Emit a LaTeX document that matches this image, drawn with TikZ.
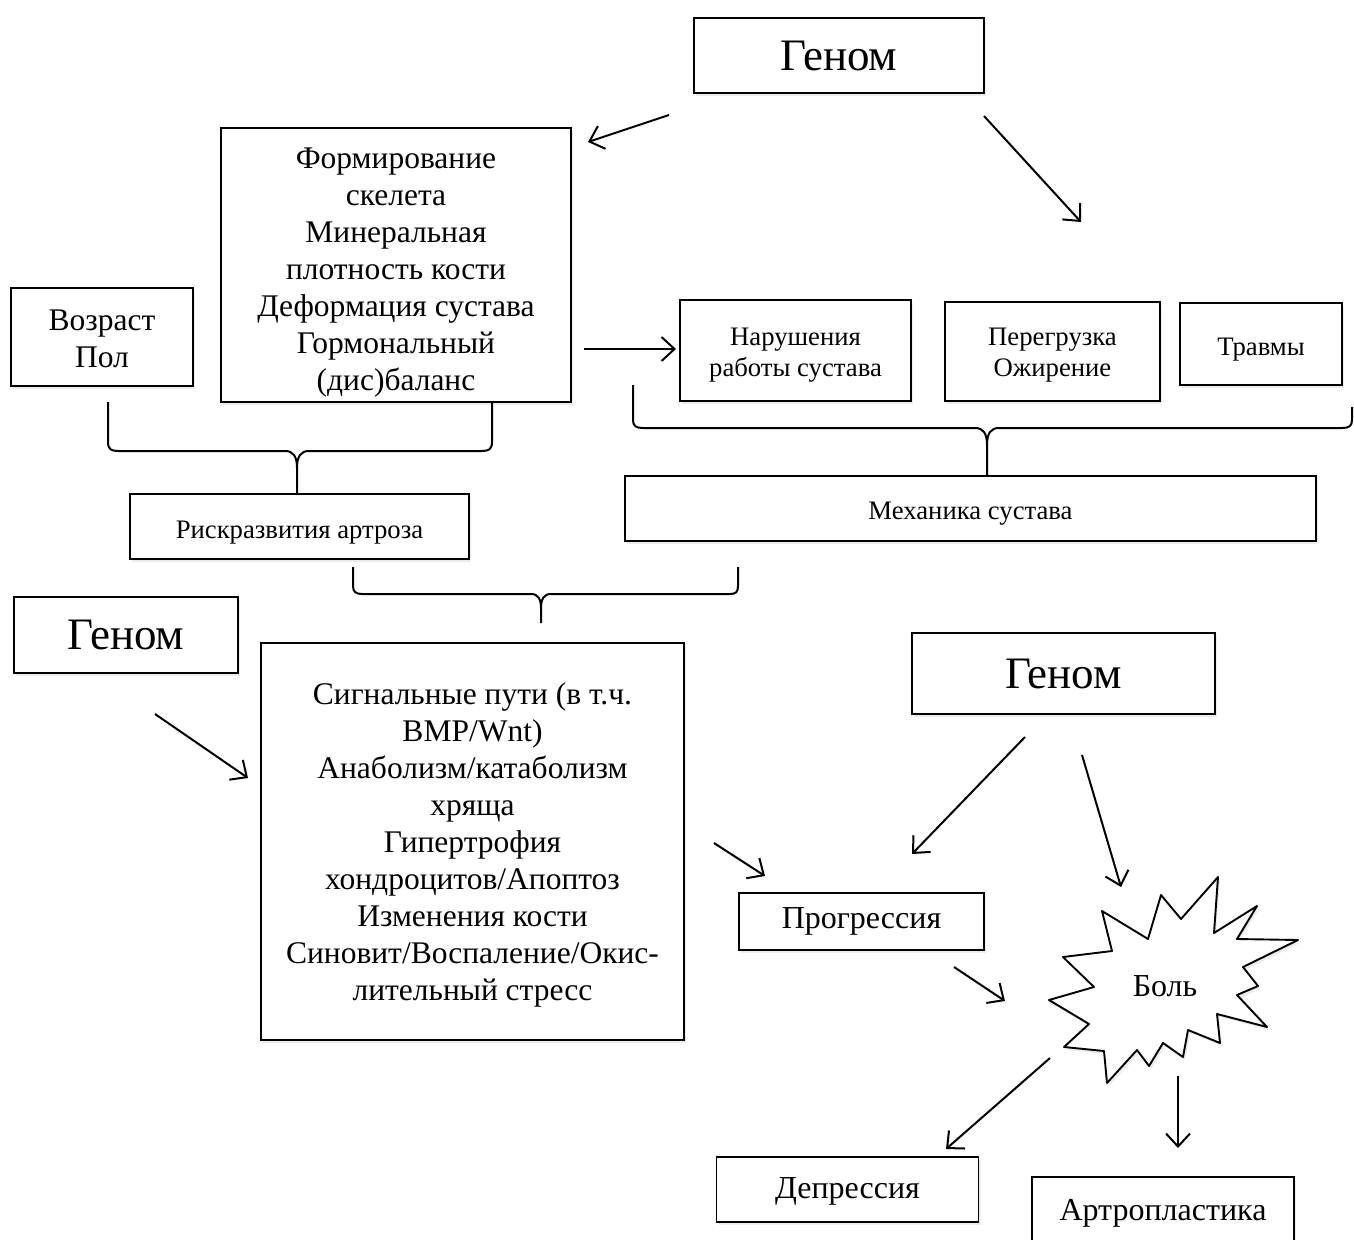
\documentclass[tikz,border=0pt]{standalone}
\usepackage{fontspec}
\setmainfont{Liberation Serif}
\usetikzlibrary{arrows.meta,shadows}
\newcommand\lowered[2]{\raisebox{-#1}[\height][\depth]{#2}}
\begin{document}
\begin{tikzpicture}[x=1pt,y=-1pt,
 box/.style={draw,line width=1.9pt,fill=white,inner sep=0pt,align=center,
   drop shadow={opacity=0.15,shadow xshift=2pt,shadow yshift=-3pt}},
 big/.style={font=\fontsize{45}{52}\selectfont},
 mid/.style={font=\fontsize{31.5}{37}\selectfont},
 med/.style={font=\fontsize{32}{37}\selectfont},
 sml/.style={font=\fontsize{26.7}{31}\selectfont},
 arr/.style={line width=2pt,-{Straight Barb[length=13pt,width=24pt,line width=2pt]}},
 bracestyle/.style={line width=2pt,line join=round}]
\useasboundingbox (0,0) rectangle (1354,1239);
\fill[white] (0,0) rectangle (1354,1239);

% boxes
\node[box,big,minimum width=290pt,minimum height=75pt] (g1) at (839,55.5) {Геном};
\node[box,mid,minimum width=350pt,minimum height=274pt] (form) at (396,265)
 {\lowered{8pt}{\parbox{340pt}{\centering Формирование\\скелета\\Минеральная\\плотность кости\\Деформация сустава\\Гормональный\\(дис)баланс}}};
\node[box,mid,minimum width=182pt,minimum height=98pt] (age) at (102,337)
 {\lowered{2pt}{\parbox{170pt}{\centering Возраст\\Пол}}};
\node[box,sml,minimum width=231pt,minimum height=101pt] (nar) at (795.5,350.5)
 {\lowered{5pt}{\parbox{220pt}{\centering Нарушения\\работы сустава}}};
\node[box,sml,minimum width=215pt,minimum height=99pt] (per) at (1052.5,351.5)
 {\lowered{4pt}{\parbox{205pt}{\centering Перегрузка\\Ожирение}}};
\node[box,sml,minimum width=162pt,minimum height=82pt] (trav) at (1261,344) {\lowered{6pt}{Травмы}};
\node[box,sml,minimum width=691pt,minimum height=65pt] (mech) at (970.5,508.5) {\lowered{5pt}{Механика сустава}};
\node[box,sml,minimum width=339pt,minimum height=65pt] (risk) at (299.5,526.5) {\lowered{6pt}{Рискразвития артроза}};
\node[box,big,minimum width=224pt,minimum height=76pt] (g2) at (126,635) {Геном};
\node[box,mid,minimum width=423pt,minimum height=397pt] (sig) at (472.5,841.5)
 {\lowered{3pt}{\parbox{410pt}{\centering Сигнальные пути (в т.ч.\\BMP/Wnt)\\Анаболизм/катаболизм\\хряща\\Гипертрофия\\хондроцитов/Апоптоз\\Изменения кости\\Синовит/Воспаление/Окис-\\лительный стресс}}};
\node[box,big,minimum width=303pt,minimum height=81pt] (g3) at (1063.5,673.5) {Геном};
\node[box,med,minimum width=245pt,minimum height=57pt] (prog) at (861.5,921.5) {Прогрессия};
\node[box,med,minimum width=262pt,minimum height=65pt] (dep) at (847.5,1189.5) {\lowered{2pt}{Депрессия}};
\node[box,med,minimum width=262pt,minimum height=68pt] (art) at (1163,1211) {\lowered{2pt}{Артропластика}};

% star
\draw[bracestyle,line width=1.9pt,fill=white,drop shadow={opacity=0.15,shadow xshift=2pt,shadow yshift=-3pt}]
 (1218,877) -- (1214,933) -- (1257,906) -- (1237,939) -- (1298,940) -- (1243,967)
 -- (1258,986) -- (1237,995) -- (1267,1027) -- (1217,1014) -- (1220,1043) -- (1188,1030)
 -- (1183,1057) -- (1163,1043) -- (1149,1066) -- (1137,1050) -- (1107,1083) -- (1104,1051)
 -- (1064,1047) -- (1089,1024) -- (1049,1000) -- (1094,987) -- (1063,957) -- (1112,951)
 -- (1102,911) -- (1148,939) -- (1161,895) -- (1181,919) -- cycle;
\node[med,inner sep=0pt] (bol) at (1165,986) {Боль};

% arrow end points
\coordinate (a1s) at (669,115); \coordinate (a1e) at (588,142);
\coordinate (a2s) at (984,116); \coordinate (a2e) at (1081,222);
\coordinate (a3s) at (584,349); \coordinate (a3e) at (676,349);
\coordinate (a4s) at (155,714); \coordinate (a4e) at (248,778);
\coordinate (a5s) at (714,843); \coordinate (a5e) at (765,876);
\coordinate (a6s) at (1025,737); \coordinate (a6e) at (912,854);
\coordinate (a7s) at (1082,755); \coordinate (a7e) at (1121,887);
\coordinate (a8s) at (954,967); \coordinate (a8e) at (1005,1001);
\coordinate (a9s) at (1050,1058); \coordinate (a9e) at (946,1149);
\coordinate (a10s) at (1178,1076); \coordinate (a10e) at (1178,1148);

\draw[arr] (a1s) -- (a1e);
\draw[arr] (a2s) -- (a2e);
\draw[arr] (a3s) -- (a3e);
\draw[arr] (a4s) -- (a4e);
\draw[arr] (a5s) -- (a5e);
\draw[arr] (a6s) -- (a6e);
\draw[arr] (a7s) -- (a7e);
\draw[arr] (a8s) -- (a8e);
\draw[arr] (a9s) -- (a9e);
\draw[arr] (a10s) -- (a10e);

% braces
\coordinate (b1l) at (108,402); \coordinate (b1r) at (492,402); \coordinate (b1t) at (297,494);
\draw[bracestyle] (b1l) -- (108,442) .. controls (108,449) and (111,451) .. (118,451) -- (285,451)
 .. controls (293,451) and (297,456) .. (297,468) -- (b1t);
\draw[bracestyle] (297,468) .. controls (297,456) and (301,451) .. (309,451) -- (482,451)
 .. controls (489,451) and (492,449) .. (492,442) -- (b1r);

\coordinate (b2l) at (633,385); \coordinate (b2r) at (1352,407); \coordinate (b2t) at (987,476);
\draw[bracestyle] (b2l) -- (633,420) .. controls (633,426) and (636,428) .. (643,428) -- (975,428)
 .. controls (983,428) and (987,433) .. (987,445) -- (b2t);
\draw[bracestyle] (987,445) .. controls (987,433) and (991,428) .. (999,428) -- (1342,428)
 .. controls (1349,428) and (1352,426) .. (1352,420) -- (b2r);

\coordinate (b3l) at (353,567); \coordinate (b3r) at (738,567); \coordinate (b3t) at (541,623);
\draw[bracestyle] (b3l) -- (353,586) .. controls (353,592) and (356,594) .. (362,594) -- (531,594)
 .. controls (538,594) and (541,599) .. (541,608) -- (b3t);
\draw[bracestyle] (541,608) .. controls (541,599) and (544,594) .. (551,594) -- (730,594)
 .. controls (736,594) and (738,592) .. (738,586) -- (b3r);
\end{tikzpicture}
\end{document}
